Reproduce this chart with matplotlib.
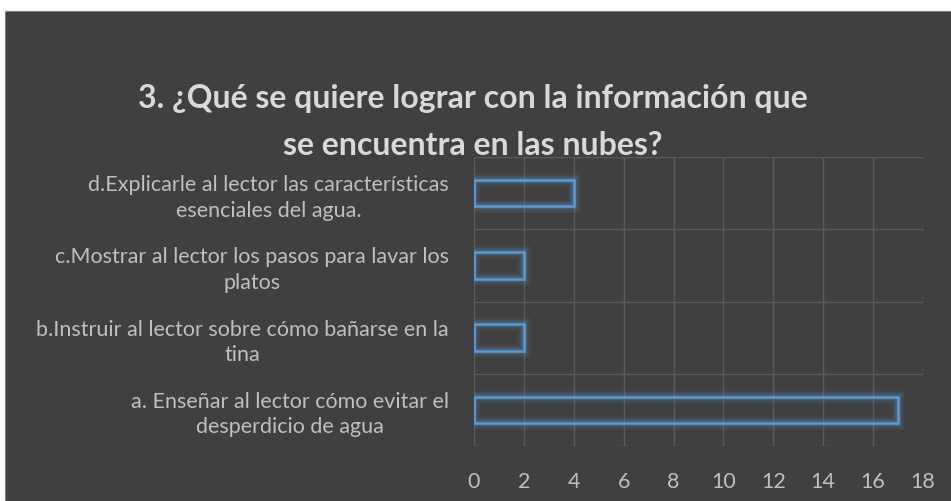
import matplotlib.pyplot as plt
from matplotlib.patches import Rectangle

# datos de la pregunta 3
categorias = [
    "a. Enseñar al lector cómo evitar el\ndesperdicio de agua",
    "b.Instruir al lector sobre cómo bañarse en la\ntina",
    "c.Mostrar al lector los pasos para lavar los\nplatos",
    "d.Explicarle al lector las características\nesenciales del agua.",
]
valores = [17, 2, 2, 4]
xticks = list(range(0, 19, 2))

fondo = "#404040"
azul = "#5B9BD5"
texto = "#BFBFBF"

plt.rcParams['font.family'] = ['Lato', 'DejaVu Sans']

fig = plt.figure(figsize=(9.51, 5.01), dpi=100)
fig.patch.set_facecolor("white")
fig.patches.append(Rectangle((5 / 951, 0), 1, 1 - 11 / 501, transform=fig.transFigure,
                             facecolor=fondo, edgecolor="#7f7f7f", linewidth=0.8, zorder=-10))

ax = fig.add_axes([474 / 951, 1 - 446 / 501, 449 / 951, 289 / 501])
ax.set_facecolor(fondo)

pos = range(len(categorias))
# brillo alrededor de las barras
for lw, a in [(10, 0.05), (8, 0.07), (6, 0.1), (4, 0.18)]:
    ax.barh(pos, valores, height=0.37, facecolor="none", edgecolor=azul,
            linewidth=lw, alpha=a, zorder=3)
ax.barh(pos, valores, height=0.37, facecolor="none", edgecolor=azul,
        linewidth=1.8, zorder=4)

ax.set_xlim(0, 18)
ax.set_ylim(-0.5, len(categorias) - 0.5)
ax.set_xticks(xticks)
ax.set_yticks(list(pos))
ax.set_yticklabels(categorias, multialignment="center", linespacing=1.35)
ax.set_yticks([p - 0.5 for p in range(len(categorias) + 1)], minor=True)

ax.grid(axis="x", which="major", color="#5a5a5a", linewidth=1)
ax.grid(axis="y", which="minor", color="#5a5a5a", linewidth=1)
ax.set_axisbelow(True)
for s in ax.spines.values():
    s.set_visible(False)

ax.tick_params(axis="both", which="both", length=0, colors=texto, labelsize=15.5)
ax.tick_params(axis="y", pad=18, labelcolor=texto)
ax.tick_params(axis="x", pad=19)

fig.text(0.497, 1 - 84 / 501,
         "3. ¿Qué se quiere lograr con la información que\nse encuentra en las nubes?",
         ha="center", va="top", fontsize=23, fontweight="bold", color="#D9D9D9",
         linespacing=1.75, zorder=5)

fig.savefig("out.png", dpi=100, facecolor=fig.get_facecolor())
